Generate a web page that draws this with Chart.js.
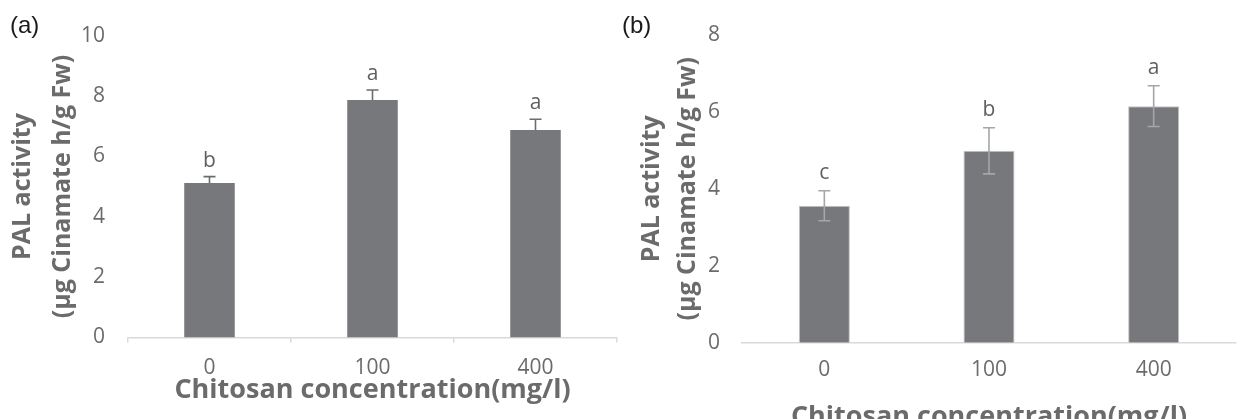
<!DOCTYPE html>
<html>
<head>
<meta charset="utf-8">
<script src="https://cdn.jsdelivr.net/npm/chart.js@4/dist/chart.umd.min.js"></script>
<style>
  html, body { margin: 0; padding: 0; background: #ffffff; width: 1245px; height: 419px; overflow: hidden; }
  #wrap { position: relative; width: 1245px; height: 419px; overflow: hidden; }
  canvas { position: absolute; top: 0; }
  #ca { left: 0; }
  #cb { left: 622px; }
  .plab { position: absolute; font-family: "Liberation Sans", Arial, sans-serif; font-size: 24px; line-height: 24px; color: #1a1a1a; }
</style>
</head>
<body>
<div id="wrap">
  <canvas id="ca" width="622" height="419"></canvas>
  <canvas id="cb" width="623" height="440"></canvas>
  <div class="plab" style="left:10px; top:13px;">(a)</div>
  <div class="plab" style="left:622px; top:13px;">(b)</div>
</div>
<script>
// ---- data ----
const categories = ['0', '100', '400'];
const valuesA = [5.12, 7.87, 6.87];
const errorsA = [0.21, 0.33, 0.36];
const lettersA = ['b', 'a', 'a'];
const valuesB = [3.56, 4.99, 6.15];
const errorsB = [0.39, 0.60, 0.53];
const lettersB = ['c', 'b', 'a'];
const yTitle = ['PAL activity', '(\u00b5g Cinamate h/g Fw)'];
const xTitle = 'Chitosan concentration(mg/l)';

const FONT = '"Open Sans", "Noto Sans", sans-serif';
const GRAY = '#6b6b6b';
const BAR = '#77787c';

const errPlugin = {
  id: 'errbars',
  afterDatasetsDraw(chart, args, opts) {
    const ctx = chart.ctx;
    const meta = chart.getDatasetMeta(0);
    const ys = chart.scales.y;
    const vals = chart.data.datasets[0].data;
    ctx.save();
    ctx.strokeStyle = opts.color;
    ctx.lineWidth = opts.width;
    meta.data.forEach((bar, i) => {
      const x = bar.x;
      const yt = ys.getPixelForValue(vals[i] + opts.err[i]);
      const yb = opts.lower ? ys.getPixelForValue(vals[i] - opts.err[i]) : bar.y;
      ctx.beginPath();
      ctx.moveTo(x, yt); ctx.lineTo(x, yb);
      ctx.moveTo(x - opts.cap, yt); ctx.lineTo(x + opts.cap, yt);
      if (opts.lower) { ctx.moveTo(x - opts.cap, yb); ctx.lineTo(x + opts.cap, yb); }
      ctx.stroke();
      ctx.fillStyle = '#5f5f5f';
      ctx.font = '21px ' + FONT;
      ctx.textAlign = 'center';
      ctx.textBaseline = 'alphabetic';
      ctx.fillText(opts.letters[i], x, yt - opts.gap);
    });
    ctx.restore();
  }
};

function makeChart(id, values, errs, letters, cfg) {
  return new Chart(document.getElementById(id), {
    type: 'bar',
    data: {
      labels: categories,
      datasets: [{
        data: values,
        backgroundColor: BAR,
        borderColor: cfg.barBorder,
        borderWidth: cfg.barBorderWidth,
        categoryPercentage: 1.0,
        barPercentage: 0.31
      }]
    },
    plugins: [errPlugin],
    options: {
      responsive: false,
      animation: false,
      devicePixelRatio: 1,
      layout: { padding: { top: 35, right: cfg.padRight, left: 0, bottom: 0 } },
      plugins: {
        legend: { display: false },
        tooltip: { enabled: false },
        errbars: { err: errs, letters: letters, color: cfg.errColor, width: 1.6, cap: 6, gap: cfg.gap, lower: cfg.lower }
      },
      scales: {
        x: {
          grid: { display: cfg.xTicks, drawOnChartArea: false, drawTicks: true, tickLength: 5, color: '#d9d9d9', lineWidth: 1.5, offset: true },
          border: { display: true, color: '#d9d9d9', width: 1.5 },
          ticks: { color: GRAY, font: { family: FONT, size: 21 }, padding: cfg.xTickPad },
          title: { display: true, text: xTitle, color: GRAY, font: { family: FONT, size: 27, weight: 'bold' }, padding: { top: 0, bottom: cfg.xTitlePad } },
          afterFit(scale) { scale.height = cfg.xHeight; }
        },
        y: {
          min: 0, max: cfg.ymax,
          grid: { display: false, drawTicks: false },
          border: { display: false },
          ticks: { stepSize: 2, color: GRAY, font: { family: FONT, size: 21 }, padding: cfg.yTickPad },
          title: { display: true, text: yTitle, color: GRAY, font: { family: FONT, size: 25, weight: 'bold', lineHeight: cfg.yTitleLH }, padding: { top: cfg.yTitlePad, bottom: 0 } },
          afterFit(scale) { scale.width = cfg.yWidth; }
        }
      }
    }
  });
}

makeChart('ca', valuesA, errorsA, lettersA, {
  ymax: 10, yWidth: 128, xHeight: 81.5, padRight: 5,
  xTicks: true, xTickPad: 13, xTitlePad: 12, yTickPad: 23,
  yTitleLH: 1.6, yTitlePad: 3,
  errColor: '#6b6c70', barBorder: BAR, barBorderWidth: 0, gap: 10, lower: false
});
makeChart('cb', valuesB, errorsB, lettersB, {
  ymax: 8, yWidth: 120, xHeight: 97.3, padRight: 9,
  xTicks: false, xTickPad: 10, xTitlePad: 6, yTickPad: 22,
  yTitleLH: 1.44, yTitlePad: 12,
  errColor: '#a6a6a6', barBorder: '#c4c4c4', barBorderWidth: 1, gap: 12, lower: true
});
</script>
</body>
</html>
